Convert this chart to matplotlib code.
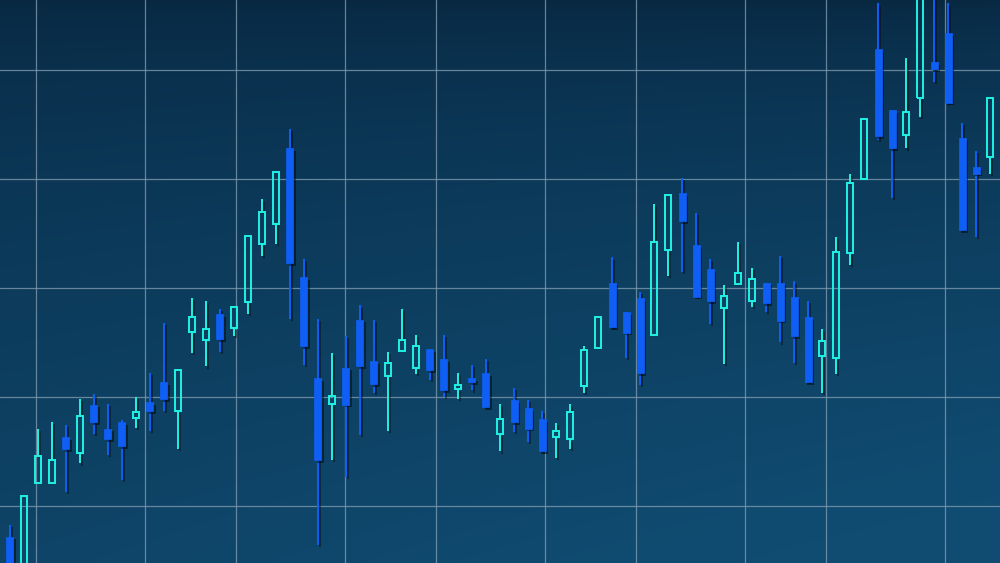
import numpy as np
import matplotlib
matplotlib.use("Agg")
import matplotlib.pyplot as plt
import matplotlib.patheffects as pe

# OHLC values, one candle per session
opens = [97.2, 93.2, 102.1, 102.1, 106.3, 104.9, 109.3, 107.1, 107.7, 108.1,
         109.5, 111.4, 108.7, 116.0, 115.2, 117.6, 116.3, 118.7, 124.0, 125.9,
         132.8, 121.0, 111.7, 109.4, 112.7, 117.1, 113.3, 111.9, 114.2, 112.7,
         114.4, 113.5, 110.7, 111.7, 112.2, 106.6, 109.7, 109.0, 108.0, 106.3,
         106.1, 111.0, 114.5, 120.5, 117.8, 119.1, 115.7, 123.5, 128.7, 123.9,
         121.7, 118.2, 120.4, 118.8, 120.5, 120.5, 119.2, 117.3, 113.8, 113.6,
         123.2, 130.0, 141.9, 136.3, 134.0, 137.4, 140.7, 143.4, 133.8, 131.1,
         132.0]
closes = [93.7, 100.9, 104.6, 104.2, 105.2, 108.3, 107.7, 106.1, 105.5, 108.6,
          108.7, 109.8, 112.5, 117.3, 116.2, 115.3, 118.3, 124.8, 127.0, 130.6,
          122.3, 114.7, 104.2, 110.1, 109.3, 112.8, 111.2, 113.1, 115.2, 114.7,
          112.5, 110.6, 111.1, 111.4, 109.1, 108.0, 107.7, 107.1, 105.0, 106.9,
          108.6, 114.3, 117.3, 116.4, 115.9, 112.2, 124.2, 128.5, 126.1, 119.2,
          118.8, 119.3, 121.4, 120.8, 118.6, 117.0, 115.6, 111.4, 115.1, 123.3,
          129.6, 135.5, 133.9, 132.8, 136.1, 148.3, 140.1, 137.0, 125.3, 130.5,
          137.4]
highs = [98.3, 100.9, 107.1, 107.7, 107.4, 109.8, 110.3, 109.4, 107.9, 110.0,
         112.2, 116.8, 112.5, 119.1, 118.8, 118.1, 118.3, 124.8, 128.2, 130.6,
         134.6, 122.7, 117.2, 114.0, 115.6, 118.4, 117.1, 114.1, 118.1, 115.7,
         114.4, 115.7, 112.2, 112.9, 113.5, 109.4, 110.8, 109.7, 108.7, 107.6,
         109.4, 114.7, 117.3, 122.8, 117.8, 119.6, 127.7, 128.5, 130.1, 126.9,
         122.7, 120.3, 124.2, 121.8, 120.5, 122.9, 120.6, 118.8, 116.2, 124.7,
         130.5, 135.5, 146.1, 136.3, 141.1, 149.2, 147.3, 146.1, 135.1, 132.6,
         137.4]
lows = [93.2, 92.3, 102.1, 102.1, 101.3, 103.9, 106.6, 104.7, 102.4, 107.2,
        106.9, 108.7, 105.2, 114.0, 112.8, 114.1, 115.6, 117.6, 122.9, 124.0,
        117.2, 112.9, 96.4, 104.2, 102.7, 106.5, 110.4, 106.9, 114.2, 112.1,
        111.6, 110.0, 109.8, 110.6, 109.1, 105.0, 106.8, 105.9, 105.0, 104.4,
        105.2, 110.4, 114.5, 116.3, 113.6, 111.1, 115.7, 121.1, 121.5, 119.2,
        116.7, 113.0, 120.4, 118.3, 117.8, 115.0, 113.1, 111.4, 110.4, 112.1,
        122.1, 130.0, 133.6, 128.3, 132.8, 135.7, 138.9, 137.0, 125.3, 124.7,
        130.5]

price_grid = [100, 110, 120, 130, 140]
time_grid = [1.86, 9.64, 16.14, 23.93, 30.43, 38.21, 44.71, 52.5, 58.29, 66.79]

up_col = "#1ff2e4"
down_col = "#0f5ff7"

o = np.array(opens)
c = np.array(closes)
h = np.array(highs)
l = np.array(lows)
x = np.arange(len(o))
up = c >= o

fig = plt.figure(figsize=(10, 5.63), dpi=100)
ax = fig.add_axes([0, 0, 1, 1])
xmin, xmax = -0.714, 70.714
ymin, ymax = 94.77, 146.42

# dark blue backdrop, darker at the top, a bit lighter to the lower right
ty = np.linspace(0, 1, 200)[:, None]
tx = np.linspace(0, 1, 300)[None, :]
top = np.array([8, 40, 66]) / 255
bot = np.array([16, 76, 114]) / 255
mix = np.clip(ty ** 0.6 * (0.78 + 0.3 * tx), 0, 1)[..., None]
bg = top + (bot - top) * mix
ax.imshow(bg, extent=[xmin, xmax, ymin, ymax], aspect="auto",
          origin="upper", zorder=0, interpolation="bilinear")

for v in price_grid:
    ax.axhline(v, color="#7d99ae", lw=0.9, alpha=0.8, zorder=1)
for v in time_grid:
    ax.axvline(v, color="#7d99ae", lw=0.9, alpha=0.8, zorder=1)

shadow_line = [pe.SimpleLineShadow(offset=(1.5, -1.5), shadow_color="k", alpha=0.4), pe.Normal()]
shadow_patch = [pe.SimplePatchShadow(offset=(2, -2), shadow_rgbFace="k", alpha=0.45), pe.Normal()]

# wicks
dn = ~up
ax.vlines(x[dn], l[dn], h[dn], color=down_col, lw=1.4, zorder=2,
          path_effects=shadow_line)
ax.vlines(x[up], c[up], h[up], color=up_col, lw=1.4, zorder=2,
          path_effects=shadow_line)
ax.vlines(x[up], l[up], o[up], color=up_col, lw=1.4, zorder=2,
          path_effects=shadow_line)

# bodies
w = 0.5
bars = ax.bar(x[dn], c[dn] - o[dn], bottom=o[dn], width=w, color=down_col,
              edgecolor=down_col, lw=0.5, zorder=3)
for b in bars:
    b.set_path_effects(shadow_patch)
ax.bar(x[up], c[up] - o[up], bottom=o[up], width=w - 0.08, facecolor="none",
       edgecolor=up_col, lw=1.4, zorder=3)

ax.set_xlim(xmin, xmax)
ax.set_ylim(ymin, ymax)
ax.axis("off")

fig.savefig("out.png", dpi=100)
